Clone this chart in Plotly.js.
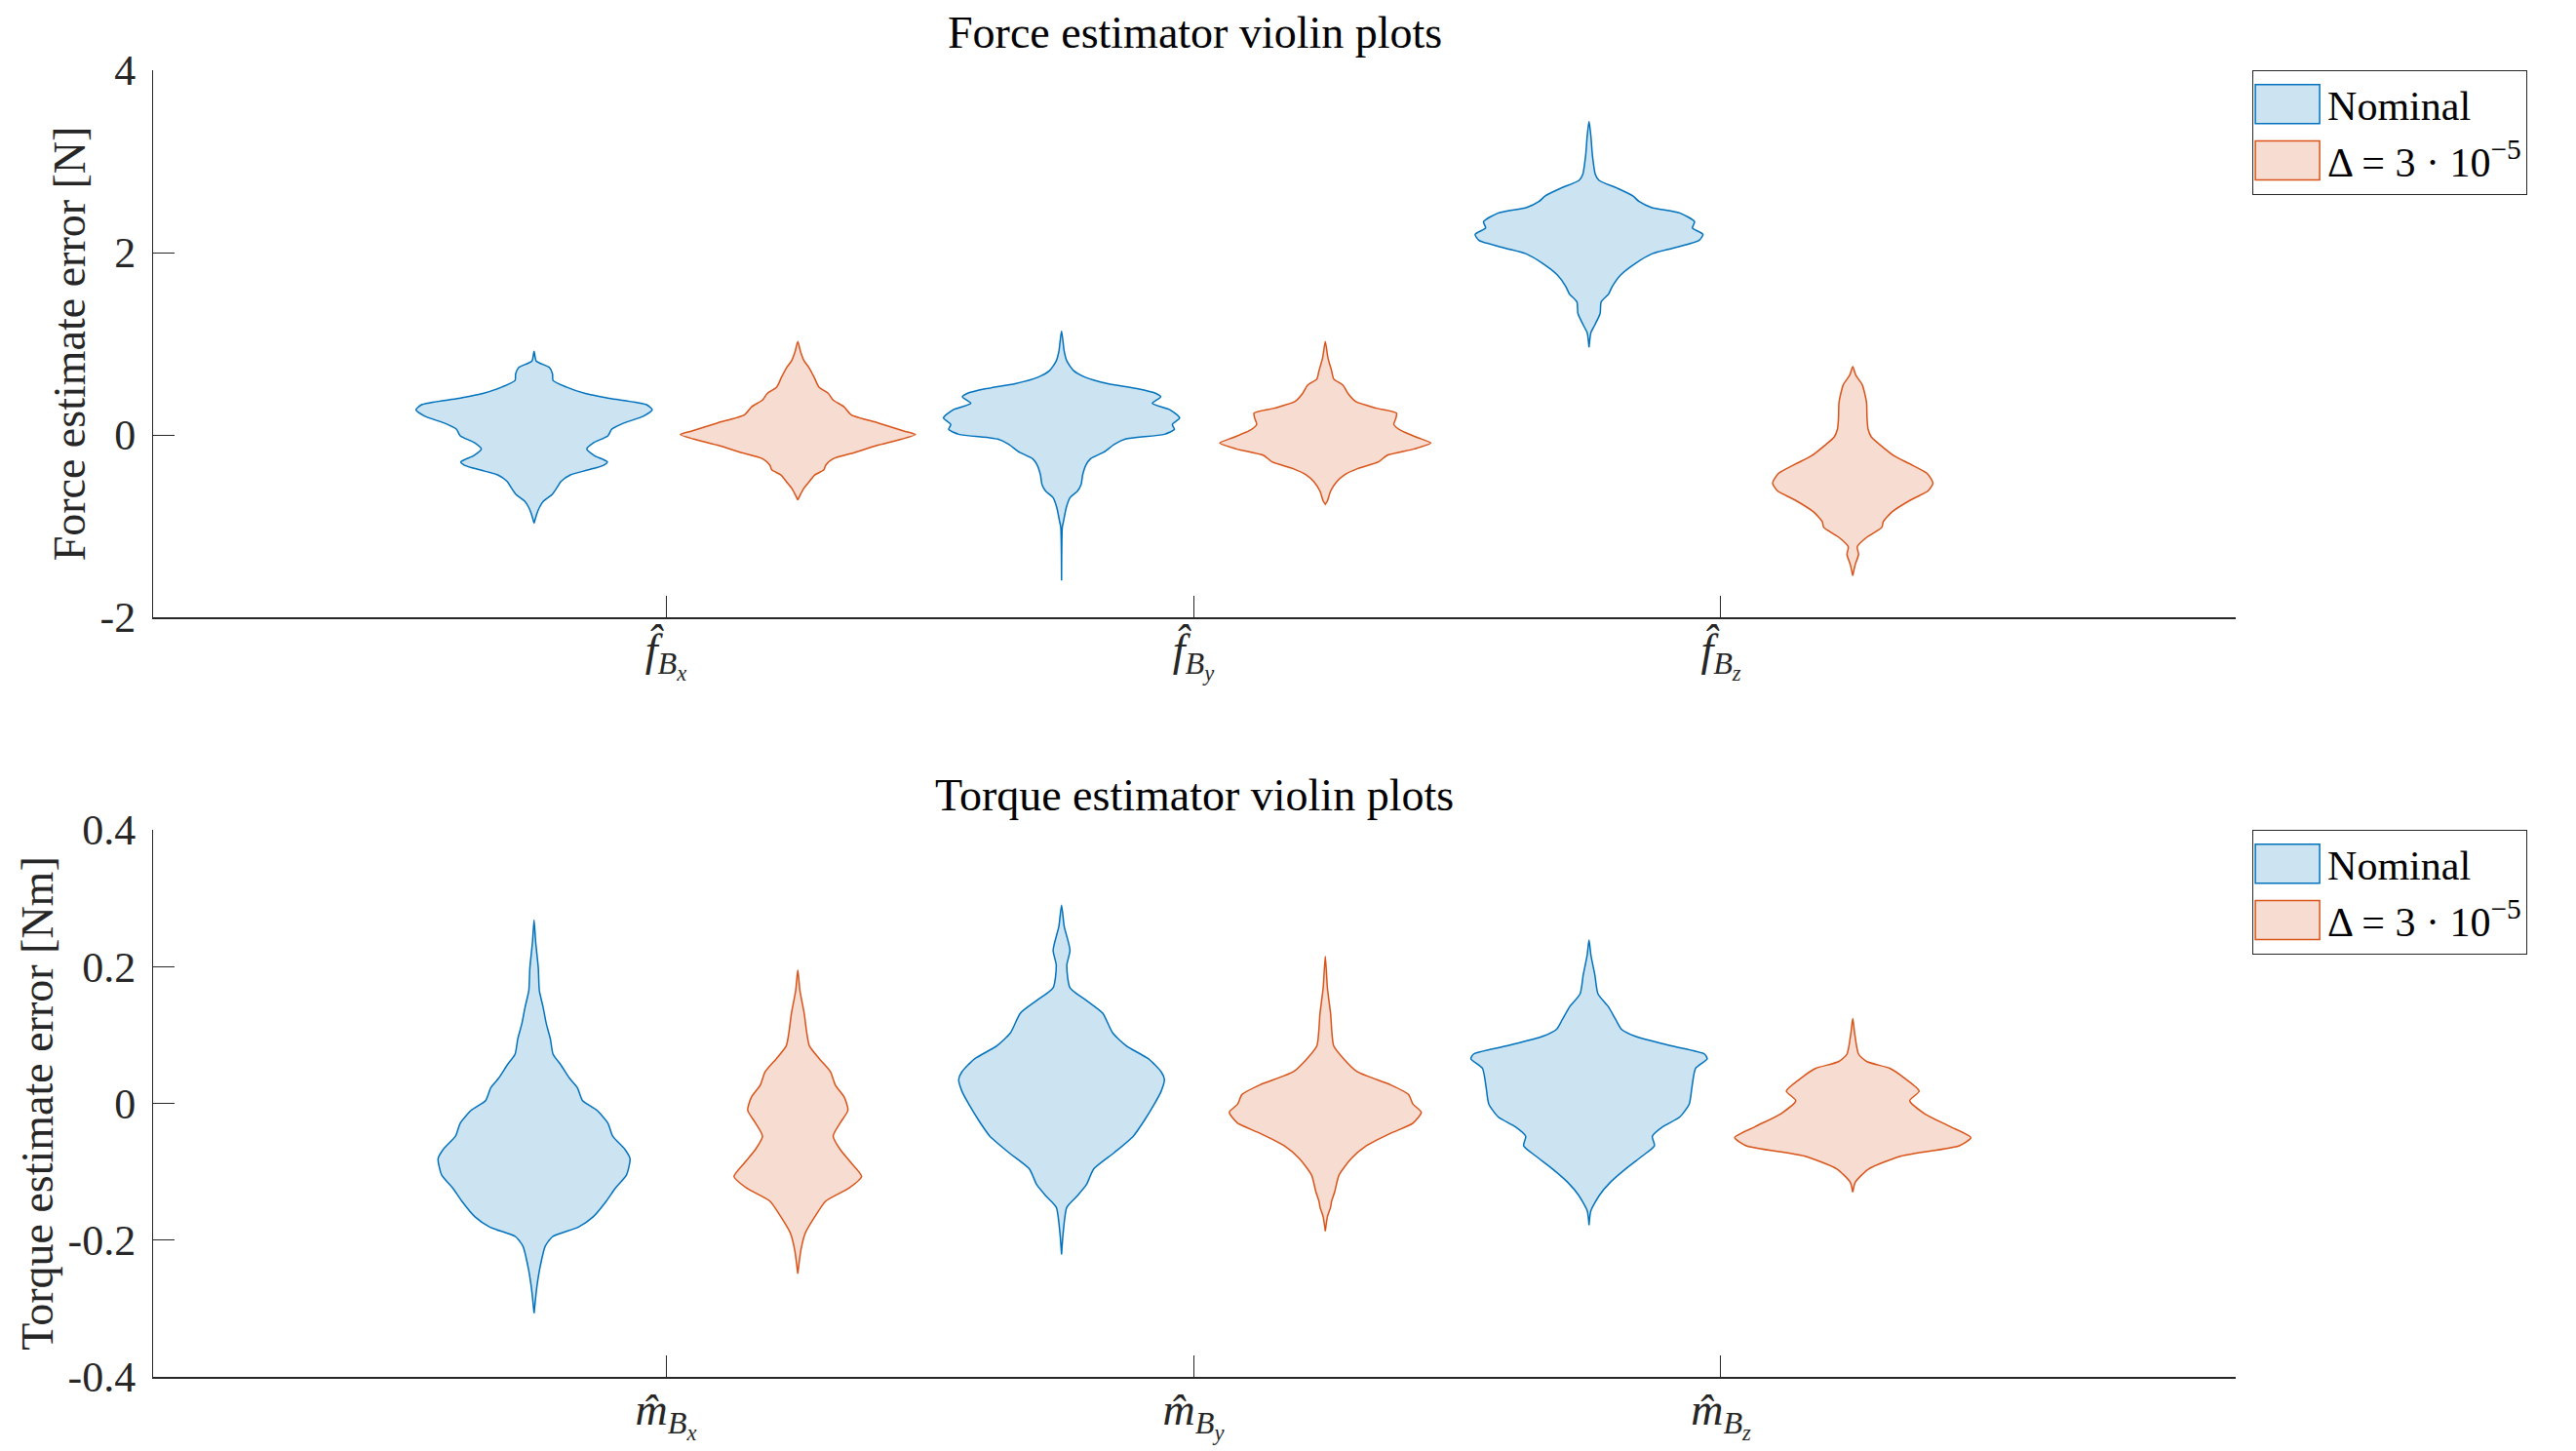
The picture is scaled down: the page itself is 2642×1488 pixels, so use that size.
<!DOCTYPE html>
<html>
<head>
<meta charset="utf-8">
<script src="https://cdn.plot.ly/plotly-3.0.1.min.js"></script>
<style>html,body{margin:0;padding:0;background:#fff}</style>
</head>
<body>
<div id="chart" style="width:2642px;height:1488px"></div>
<script>
// category ticks
const catPos = [1, 2, 3];
const forceLabels = ['<i>f\u0302</i><sub><i>B</i><sub><i>x</i></sub></sub>',
                     '<i>f\u0302</i><sub><i>B</i><sub><i>y</i></sub></sub>',
                     '<i>f\u0302</i><sub><i>B</i><sub><i>z</i></sub></sub>'];
const torqueLabels = ['<i>m\u0302</i><sub><i>B</i><sub><i>x</i></sub></sub>',
                      '<i>m\u0302</i><sub><i>B</i><sub><i>y</i></sub></sub>',
                      '<i>m\u0302</i><sub><i>B</i><sub><i>z</i></sub></sub>'];
const forceTicks = [-2, 0, 2, 4];
const forceTickText = ['-2', '0', '2', '4'];
const torqueTicks = [-0.4, -0.2, 0, 0.2, 0.4];
const torqueTickText = ['-0.4', '-0.2', '0', '0.2', '0.4'];
const seriesNames = ['Nominal', '\u0394 = 3 \u00b7 10<sup>\u22125</sup>'];

// violin outlines: error level and half width (x units)
// force, nominal
const fNomX_y = [0.918,0.811,0.740,0.668,0.597,0.525,0.454,0.400,0.329,0.275,0.204,0.132,0.061,-0.011,-0.082,-0.154,-0.225,-0.296,-0.332,-0.386,-0.439,-0.511,-0.582,-0.654,-0.725,-0.797,-0.868,-0.968];
const fNomX_w = [0,0.004,0.029,0.035,0.036,0.061,0.097,0.143,0.214,0.224,0.207,0.171,0.147,0.140,0.114,0.100,0.114,0.139,0.132,0.101,0.069,0.051,0.043,0.034,0.018,0.010,0.005,0];
const fNomY_y = [1.140,0.918,0.811,0.704,0.632,0.561,0.507,0.454,0.418,0.347,0.275,0.186,0.114,0.061,0.007,-0.046,-0.100,-0.189,-0.261,-0.332,-0.439,-0.546,-0.618,-0.689,-0.797,-0.939,-1.011,-1.597];
const fNomY_w = [0,0.005,0.010,0.023,0.045,0.088,0.143,0.179,0.188,0.172,0.206,0.224,0.210,0.214,0.195,0.121,0.101,0.080,0.055,0.046,0.040,0.037,0.030,0.016,0.009,0.004,0.0015,0];
const fNomZ_y = [3.438,3.278,3.066,2.855,2.791,2.707,2.622,2.559,2.495,2.432,2.339,2.271,2.199,2.136,2.051,1.988,1.882,1.755,1.628,1.544,1.459,1.332,1.206,1.121,0.960];
const fNomZ_w = [0,0.0035,0.0064,0.012,0.019,0.053,0.083,0.095,0.118,0.173,0.200,0.196,0.216,0.209,0.161,0.120,0.088,0.060,0.044,0.037,0.023,0.021,0.011,0.0035,0];
// force, delta
const fDelX_y = [1.025,0.918,0.811,0.740,0.632,0.525,0.454,0.382,0.311,0.221,0.132,0.043,0.004,-0.046,-0.118,-0.189,-0.261,-0.332,-0.386,-0.439,-0.511,-0.582,-0.654,-0.714];
const fDelX_w = [0,0.005,0.012,0.021,0.031,0.040,0.058,0.067,0.087,0.101,0.152,0.201,0.223,0.197,0.149,0.110,0.067,0.053,0.049,0.032,0.022,0.012,0.005,0];
const fDelY_y = [1.025,0.847,0.704,0.614,0.543,0.454,0.364,0.293,0.239,0.186,0.114,0.043,-0.029,-0.089,-0.154,-0.225,-0.296,-0.368,-0.439,-0.511,-0.618,-0.725,-0.761];
const fDelY_w = [0,0.005,0.012,0.016,0.034,0.043,0.058,0.097,0.135,0.134,0.130,0.145,0.175,0.200,0.169,0.117,0.101,0.062,0.036,0.022,0.010,0.004,0];
const fDelZ_y = [0.749,0.656,0.550,0.360,0.190,0.064,-0.021,-0.105,-0.232,-0.317,-0.423,-0.529,-0.613,-0.719,-0.846,-0.951,-1.015,-1.120,-1.226,-1.311,-1.416,-1.543];
const fDelZ_w = [0,0.0057,0.018,0.026,0.027,0.029,0.035,0.051,0.079,0.108,0.141,0.152,0.143,0.108,0.074,0.058,0.055,0.027,0.0085,0.011,0.005,0];
// torque, nominal
const tNomX_y = [0.268,0.236,0.198,0.165,0.141,0.117,0.094,0.072,0.056,0.037,0.023,0.004,-0.010,-0.029,-0.048,-0.067,-0.081,-0.105,-0.124,-0.143,-0.166,-0.181,-0.195,-0.209,-0.237,-0.270,-0.307];
const tNomX_w = [0,0.003,0.008,0.010,0.017,0.023,0.031,0.036,0.051,0.067,0.082,0.092,0.119,0.140,0.149,0.172,0.182,0.175,0.154,0.137,0.112,0.084,0.035,0.021,0.012,0.005,0];
const tNomY_y = [0.290,0.259,0.224,0.202,0.169,0.150,0.132,0.103,0.084,0.065,0.046,0.035,0.018,-0.001,-0.025,-0.048,-0.072,-0.096,-0.119,-0.136,-0.152,-0.190,-0.221];
const tNomY_w = [0,0.005,0.016,0.010,0.016,0.048,0.078,0.097,0.123,0.165,0.189,0.195,0.189,0.176,0.157,0.136,0.100,0.061,0.047,0.029,0.010,0.003,0];
const tNomZ_y = [0.239,0.217,0.188,0.160,0.141,0.122,0.108,0.098,0.084,0.072,0.065,0.051,0.023,-0.001,-0.020,-0.034,-0.048,-0.062,-0.077,-0.096,-0.115,-0.134,-0.157,-0.178];
const tNomZ_w = [0,0.0035,0.011,0.017,0.037,0.051,0.062,0.088,0.156,0.219,0.224,0.202,0.195,0.190,0.172,0.140,0.120,0.124,0.101,0.069,0.041,0.020,0.0035,0];
// torque, delta
const tDelX_y = [0.195,0.165,0.132,0.103,0.084,0.065,0.046,0.027,0.009,-0.010,-0.029,-0.048,-0.067,-0.086,-0.107,-0.124,-0.143,-0.166,-0.190,-0.214,-0.249];
const tDelX_w = [0,0.004,0.012,0.017,0.022,0.041,0.062,0.071,0.088,0.095,0.080,0.067,0.080,0.100,0.121,0.097,0.053,0.032,0.014,0.006,0];
const tDelY_y = [0.215,0.169,0.132,0.084,0.065,0.046,0.027,0.013,-0.001,-0.013,-0.029,-0.044,-0.062,-0.081,-0.105,-0.129,-0.143,-0.152,-0.166,-0.187];
const tDelY_w = [0,0.004,0.010,0.016,0.035,0.061,0.124,0.158,0.166,0.182,0.166,0.123,0.078,0.049,0.026,0.018,0.012,0.010,0.004,0];
const tDelZ_y = [0.124,0.103,0.072,0.061,0.051,0.037,0.018,0.004,-0.015,-0.034,-0.050,-0.062,-0.077,-0.096,-0.115,-0.130];
const tDelZ_w = [0,0.0035,0.011,0.027,0.071,0.098,0.126,0.108,0.136,0.185,0.224,0.202,0.092,0.030,0.005,0];

const serif = '"Liberation Serif", "DejaVu Serif", serif';
const axisCol = '#262626';
const nomLine = '#0072BD', nomFill = 'rgba(0,114,189,0.2)';
const delLine = '#D95319', delFill = 'rgba(217,83,25,0.2)';
const shift = 0.25;

// closed outline: right side down, left side back up
function violin(center, ys, ws, lineCol, fillCol, xa, ya, name, showleg, leg){
    let x = [], y = [];
    for(let i=0;i<ys.length;i++){ x.push(center + ws[i]); y.push(ys[i]); }
    for(let i=ys.length-1;i>=0;i--){ x.push(center - ws[i]); y.push(ys[i]); }
    return {
	type: 'scatter', mode: 'lines', x: x, y: y,
	xaxis: xa, yaxis: ya,
	fill: 'toself', fillcolor: fillCol,
	line: {color: lineCol, width: 1.5, shape: 'spline', smoothing: 0.6},
	name: name, showlegend: showleg, legend: leg, hoverinfo: 'skip'
    };
}

let data = [
    violin(catPos[0]-shift, fNomX_y, fNomX_w, nomLine, nomFill, 'x', 'y', seriesNames[0], true, 'legend'),
    violin(catPos[0]+shift, fDelX_y, fDelX_w, delLine, delFill, 'x', 'y', seriesNames[1], true, 'legend'),
    violin(catPos[1]-shift, fNomY_y, fNomY_w, nomLine, nomFill, 'x', 'y', seriesNames[0], false, 'legend'),
    violin(catPos[1]+shift, fDelY_y, fDelY_w, delLine, delFill, 'x', 'y', seriesNames[1], false, 'legend'),
    violin(catPos[2]-shift, fNomZ_y, fNomZ_w, nomLine, nomFill, 'x', 'y', seriesNames[0], false, 'legend'),
    violin(catPos[2]+shift, fDelZ_y, fDelZ_w, delLine, delFill, 'x', 'y', seriesNames[1], false, 'legend'),

    violin(catPos[0]-shift, tNomX_y, tNomX_w, nomLine, nomFill, 'x2', 'y2', seriesNames[0], true, 'legend2'),
    violin(catPos[0]+shift, tDelX_y, tDelX_w, delLine, delFill, 'x2', 'y2', seriesNames[1], true, 'legend2'),
    violin(catPos[1]-shift, tNomY_y, tNomY_w, nomLine, nomFill, 'x2', 'y2', seriesNames[0], false, 'legend2'),
    violin(catPos[1]+shift, tDelY_y, tDelY_w, delLine, delFill, 'x2', 'y2', seriesNames[1], false, 'legend2'),
    violin(catPos[2]-shift, tNomZ_y, tNomZ_w, nomLine, nomFill, 'x2', 'y2', seriesNames[0], false, 'legend2'),
    violin(catPos[2]+shift, tDelZ_y, tDelZ_w, delLine, delFill, 'x2', 'y2', seriesNames[1], false, 'legend2')
];

function xAxis(labels, anchor){
    return {
	anchor: anchor, domain: [0, 1], range: [0.0277, 3.976],
	tickvals: catPos, ticktext: labels,
	ticks: 'inside', ticklen: 22, tickwidth: 1, tickcolor: axisCol,
	showline: true, linecolor: axisCol, linewidth: 1.5,
	showgrid: false, zeroline: false, fixedrange: true,
	ticklabelstandoff: -8,
	tickfont: {family: serif, size: 46, color: axisCol}
    };
}
function yAxis(range, vals, text, title, domain, anchor){
    return {
	anchor: anchor, domain: domain, range: range,
	tickvals: vals, ticktext: text,
	ticks: 'inside', ticklen: 22, tickwidth: 1, tickcolor: axisCol,
	showline: true, linecolor: axisCol, linewidth: 1,
	showgrid: false, zeroline: false, fixedrange: true,
	ticklabelstandoff: 8,
	tickfont: {family: serif, size: 44, color: axisCol},
	title: {text: title, font: {family: serif, size: 46, color: axisCol}, standoff: 0}
    };
}

let legendBase = {
    xanchor: 'left', yanchor: 'top', x: 1.008,
    bgcolor: '#ffffff', bordercolor: axisCol, borderwidth: 1,
    font: {family: serif, size: 42, color: '#000'},
    itemwidth: 66, tracegroupgap: 0
};

let layout = {
    width: 2642, height: 1488,
    margin: {l: 157, r: 349, t: 72, b: 76},
    paper_bgcolor: '#ffffff', plot_bgcolor: '#ffffff',
    showlegend: true,
    xaxis: xAxis(forceLabels, 'y'),
    yaxis: yAxis([-2, 4], forceTicks, forceTickText, 'Force estimate error [N]', [0.58134, 1], 'x'),
    xaxis2: xAxis(torqueLabels, 'y2'),
    yaxis2: yAxis([-0.4, 0.4], torqueTicks, torqueTickText, 'Torque estimate error [Nm]', [0, 0.41866], 'x2'),
    legend: Object.assign({}, legendBase, {y: 1}),
    legend2: Object.assign({}, legendBase, {y: 0.41866}),
    annotations: [
	{text: 'Force estimator violin plots', xref: 'paper', yref: 'paper', x: 0.5, y: 1.029,
	 xanchor: 'center', yanchor: 'middle', showarrow: false,
	 font: {family: serif, size: 46, color: '#000'}},
	{text: 'Torque estimator violin plots', xref: 'paper', yref: 'paper', x: 0.5, y: 0.4448,
	 xanchor: 'center', yanchor: 'middle', showarrow: false,
	 font: {family: serif, size: 46, color: '#000'}}
    ]
};

Plotly.newPlot('chart', data, layout, {staticPlot: true, displayModeBar: false}).then(function(gd){
    // legend keys as filled boxes like the original figure
    let box = 'M2,-20h66v40h-66Z';
    gd.querySelectorAll('.traces').forEach(function(item){
	let f = item.querySelector('.legendfill path');
	let l = item.querySelector('.legendlines path');
	if(f) f.setAttribute('d', box);
	if(l){ l.setAttribute('d', box); l.style.fill = 'none'; }
    });
});
</script>
</body>
</html>
